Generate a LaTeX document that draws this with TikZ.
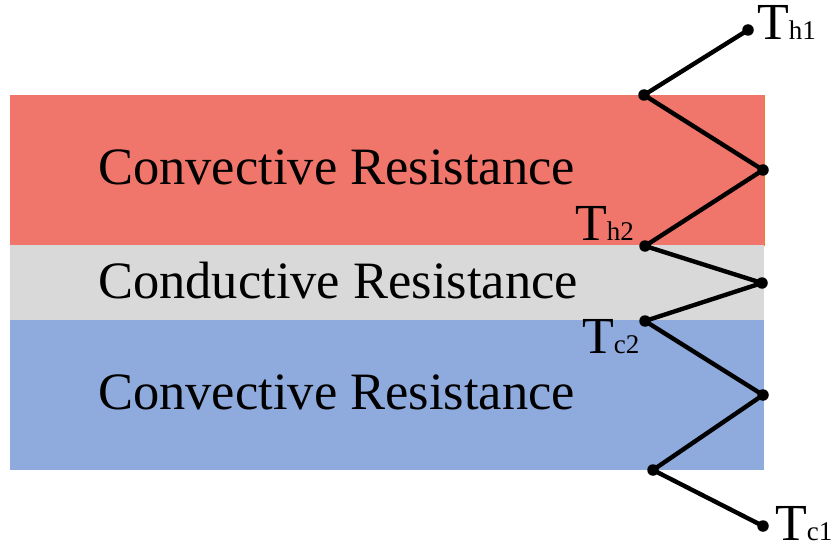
\documentclass[tikz,border=0pt]{standalone}
\usepackage{fontspec}
\setmainfont{Liberation Serif}
\definecolor{hotred}{RGB}{240,117,106}
\definecolor{midgray}{RGB}{217,217,217}
\definecolor{coldblue}{RGB}{143,170,220}
\definecolor{edgeorange}{RGB}{237,125,49}
\tikzset{
  dotpt/.style={circle,fill=black,inner sep=0pt,minimum size=11.5pt},
  zig/.style={line width=4.4pt,line join=round},
  lbl/.style={font=\fontsize{52.5}{56}\selectfont,inner sep=0pt,anchor=base west},
  tlbl/.style={font=\fontsize{52}{56}\selectfont,inner sep=0pt,anchor=base west}
}
\newcommand{\tsub}[1]{T{\fontsize{27}{29}\selectfont #1}}
\begin{document}
\begin{tikzpicture}[x=1pt,y=-1pt]
\useasboundingbox (0,0) rectangle (832,548);
\fill[hotred,draw=edgeorange,line width=0.6pt] (10,95) rectangle (764,245);
\fill[midgray] (10,245) rectangle (764,320);
\fill[coldblue] (10,320) rectangle (764,470);
\fill[hotred] (10.3,95.3) rectangle (763.7,245);
\node[lbl] (t1) at (98,185) {Convective Resistance};
\node[lbl] (t2) at (98,298) {Conductive Resistance};
\node[lbl] (t3) at (98,409) {Convective Resistance};
\node[dotpt] (p0) at (748,30) {};
\node[dotpt] (p1) at (644,95) {};
\node[dotpt] (p2) at (763,170) {};
\node[dotpt] (p3) at (645,246) {};
\node[dotpt] (p4) at (762,283) {};
\node[dotpt] (p5) at (645,321) {};
\node[dotpt] (p6) at (763,395) {};
\node[dotpt] (p7) at (653,470) {};
\node[dotpt] (p8) at (763,526) {};
\draw[zig] (p0.center) -- (p1.center) -- (p2.center) -- (p3.center) -- (p4.center) -- (p5.center) -- (p6.center) -- (p7.center) -- (p8.center);
\node[tlbl] (th1) at (757,40) {\tsub{h1}};
\node[tlbl] (th2) at (575,240) {\tsub{h2}};
\node[tlbl] (tc2) at (582,353) {\tsub{c2}};
\node[tlbl] (tc1) at (775,540) {\tsub{c1}};
\end{tikzpicture}
\end{document}
